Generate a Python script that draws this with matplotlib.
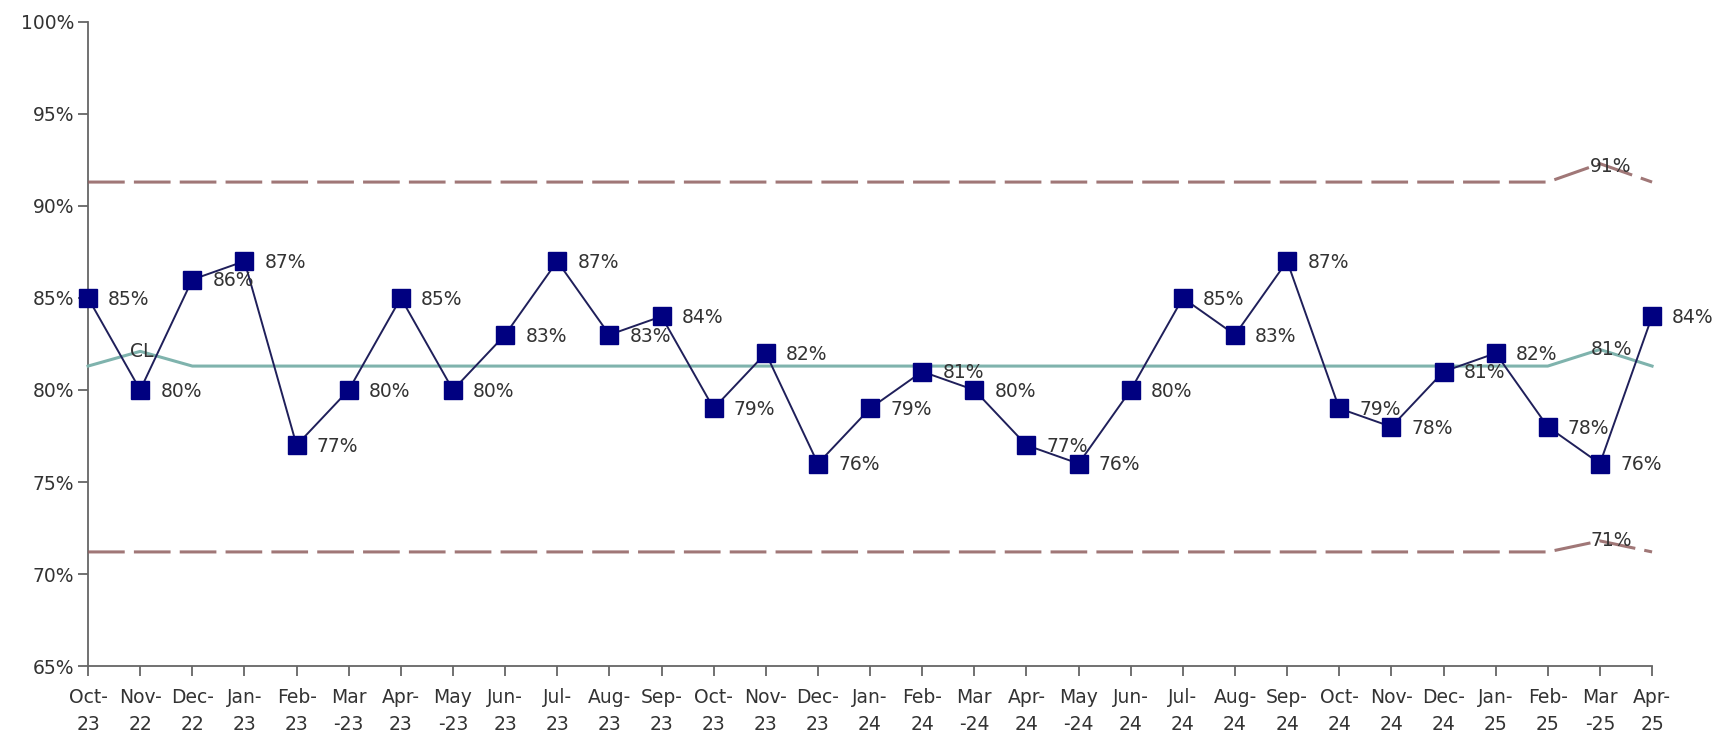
import matplotlib
matplotlib.use("Agg")
import matplotlib.pyplot as plt
from matplotlib.ticker import FuncFormatter, MultipleLocator

# month labels as they appear on the axis (two lines each)
months = ['Oct-\n23', 'Nov-\n22', 'Dec-\n22', 'Jan-\n23', 'Feb-\n23', 'Mar\n-23', 'Apr-\n23',
          'May\n-23', 'Jun-\n23', 'Jul-\n23', 'Aug-\n23', 'Sep-\n23', 'Oct-\n23', 'Nov-\n23',
          'Dec-\n23', 'Jan-\n24', 'Feb-\n24', 'Mar\n-24', 'Apr-\n24', 'May\n-24', 'Jun-\n24',
          'Jul-\n24', 'Aug-\n24', 'Sep-\n24', 'Oct-\n24', 'Nov-\n24', 'Dec-\n24', 'Jan-\n25',
          'Feb-\n25', 'Mar\n-25', 'Apr-\n25']

values = [85, 80, 86, 87, 77, 80, 85, 80, 83, 87, 83, 84, 79, 82, 76, 79,
          81, 80, 77, 76, 80, 85, 83, 87, 79, 78, 81, 82, 78, 76, 84]

cl = [81.3, 82.1] + [81.3] * 27 + [82.2, 81.3]
ucl = [91.3] * 29 + [92.3, 91.3]
lcl = [71.2] * 29 + [71.8, 71.2]

# texts shown on the control lines
cl_text = ['CL', '81%']
ucl_text = '91%'
lcl_text = '71%'

x = list(range(len(values)))

fig = plt.figure(figsize=(17.2, 7.42), dpi=100)
ax = fig.add_axes([0.0512, 0.1024, 0.9093, 0.868])

line_col = '#8f5f5f'
ax.plot(x, ucl, color=line_col, lw=2.2, dashes=(12, 3), alpha=0.85, zorder=2, clip_on=False)
ax.plot(x, lcl, color=line_col, lw=2.2, dashes=(12, 3), alpha=0.85, zorder=2, clip_on=False)
ax.plot(x, cl, color='#7fb3ad', lw=2.2, zorder=2, clip_on=False)
ax.plot(x, values, color='#1f1f5a', lw=1.4, marker='s', markersize=12.5,
        markerfacecolor='#000080', markeredgecolor='#000080', zorder=3, clip_on=False)

txt_col = '#333333'
for i, v in enumerate(values):
    ax.annotate(f'{v}%', (i, v), xytext=(14.5, -1), textcoords='offset points',
                ha='left', va='center', fontsize=13.5, color=txt_col, zorder=4)

# labels on the control lines
ax.annotate(cl_text[0], (1, cl[1]), xytext=(1, 0), textcoords='offset points',
            ha='center', va='center', fontsize=13.5, color=txt_col, zorder=4)
ax.annotate(ucl_text, (29, ucl[-2]), xytext=(8, -2), textcoords='offset points',
            ha='center', va='center', fontsize=13.5, color=txt_col, zorder=4)
ax.annotate(cl_text[1], (29, cl[-2]), xytext=(8, 0), textcoords='offset points',
            ha='center', va='center', fontsize=13.5, color=txt_col, zorder=4)
ax.annotate(lcl_text, (29, lcl[-2]), xytext=(8, 0), textcoords='offset points',
            ha='center', va='center', fontsize=13.5, color=txt_col, zorder=4)

ax.set_xlim(0, len(values) - 1)
ax.set_ylim(65, 100)
ax.yaxis.set_major_locator(MultipleLocator(5))
ax.yaxis.set_major_formatter(FuncFormatter(lambda v, p: f'{v:.0f}%'))
ax.set_xticks(x)
ax.set_xticklabels(months, linespacing=1.55)

for s in ['top', 'right']:
    ax.spines[s].set_visible(False)
for s in ['left', 'bottom']:
    ax.spines[s].set_color('#666666')
    ax.spines[s].set_linewidth(1.3)
ax.spines['left'].set_zorder(1)

ax.tick_params(axis='both', direction='out', length=7, width=1.3, color='#666666',
               labelsize=13.5, labelcolor=txt_col)
ax.tick_params(axis='y', pad=3)
ax.tick_params(axis='x', pad=9)

fig.savefig('out.png', dpi=100)
